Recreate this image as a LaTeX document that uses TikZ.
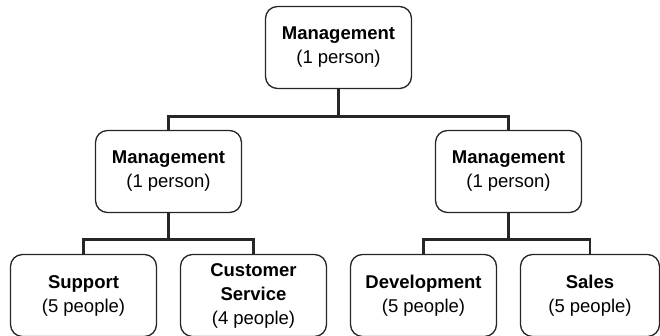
\documentclass[tikz,border=0pt]{standalone}
\usepackage{fontspec}
\setmainfont{Liberation Sans}
\usetikzlibrary{shapes,arrows}
\tikzstyle{block} = [rectangle, draw=black!85, line width=1.3pt, align=center, rounded corners=12pt, minimum width=146pt, minimum height=82pt, inner sep=0pt, font=\fontsize{18.5}{24}\selectfont]
\tikzstyle{line} = [draw=black!85, line width=2.5pt]
\begin{document}
\begin{tikzpicture}[node distance = 124pt, auto]
					\useasboundingbox (-338.5pt,47.5pt) rectangle (321.5pt,-288.5pt);
					\node [block] (management) {\textbf{Management}\\(1 person)};
					\node [block, below of=management, xshift=-170pt] (mgmtleft) {\textbf{Management}\\(1 person)};
					\node [block, below of=management, xshift=170pt] (mgmtright) {\textbf{Management}\\(1 person)};
					\node [block, below of=mgmtleft, xshift=-85pt] (support) {\textbf{Support}\\(5 people)};
					\node [block, below of=mgmtleft, xshift=85pt] (service) {\textbf{Customer}\\\textbf{Service}\\(4 people)};
					\node [block, below of=mgmtright, xshift=-85pt] (development) {\textbf{Development}\\(5 people)};
					\node [block, below of=mgmtright, xshift=81.5pt, minimum width=139pt] (sales) {\textbf{Sales}\\(5 people)};
					\path [line] (management.south) -- ++(0,-27.5pt) -| (mgmtleft.north);
					\path [line] (management.south) -- ++(0,-27.5pt) -| (mgmtright.north);
					\path [line] (mgmtleft.south) -- ++(0,-26.5pt) -| (support.north);
					\path [line] (mgmtleft.south) -- ++(0,-26.5pt) -| (service.north);
					\path [line] (mgmtright.south) -- ++(0,-26.5pt) -| (development.north);
					\path [line] (mgmtright.south) -- ++(0,-26.5pt) -| (sales.north);
				\end{tikzpicture}
\end{document}
